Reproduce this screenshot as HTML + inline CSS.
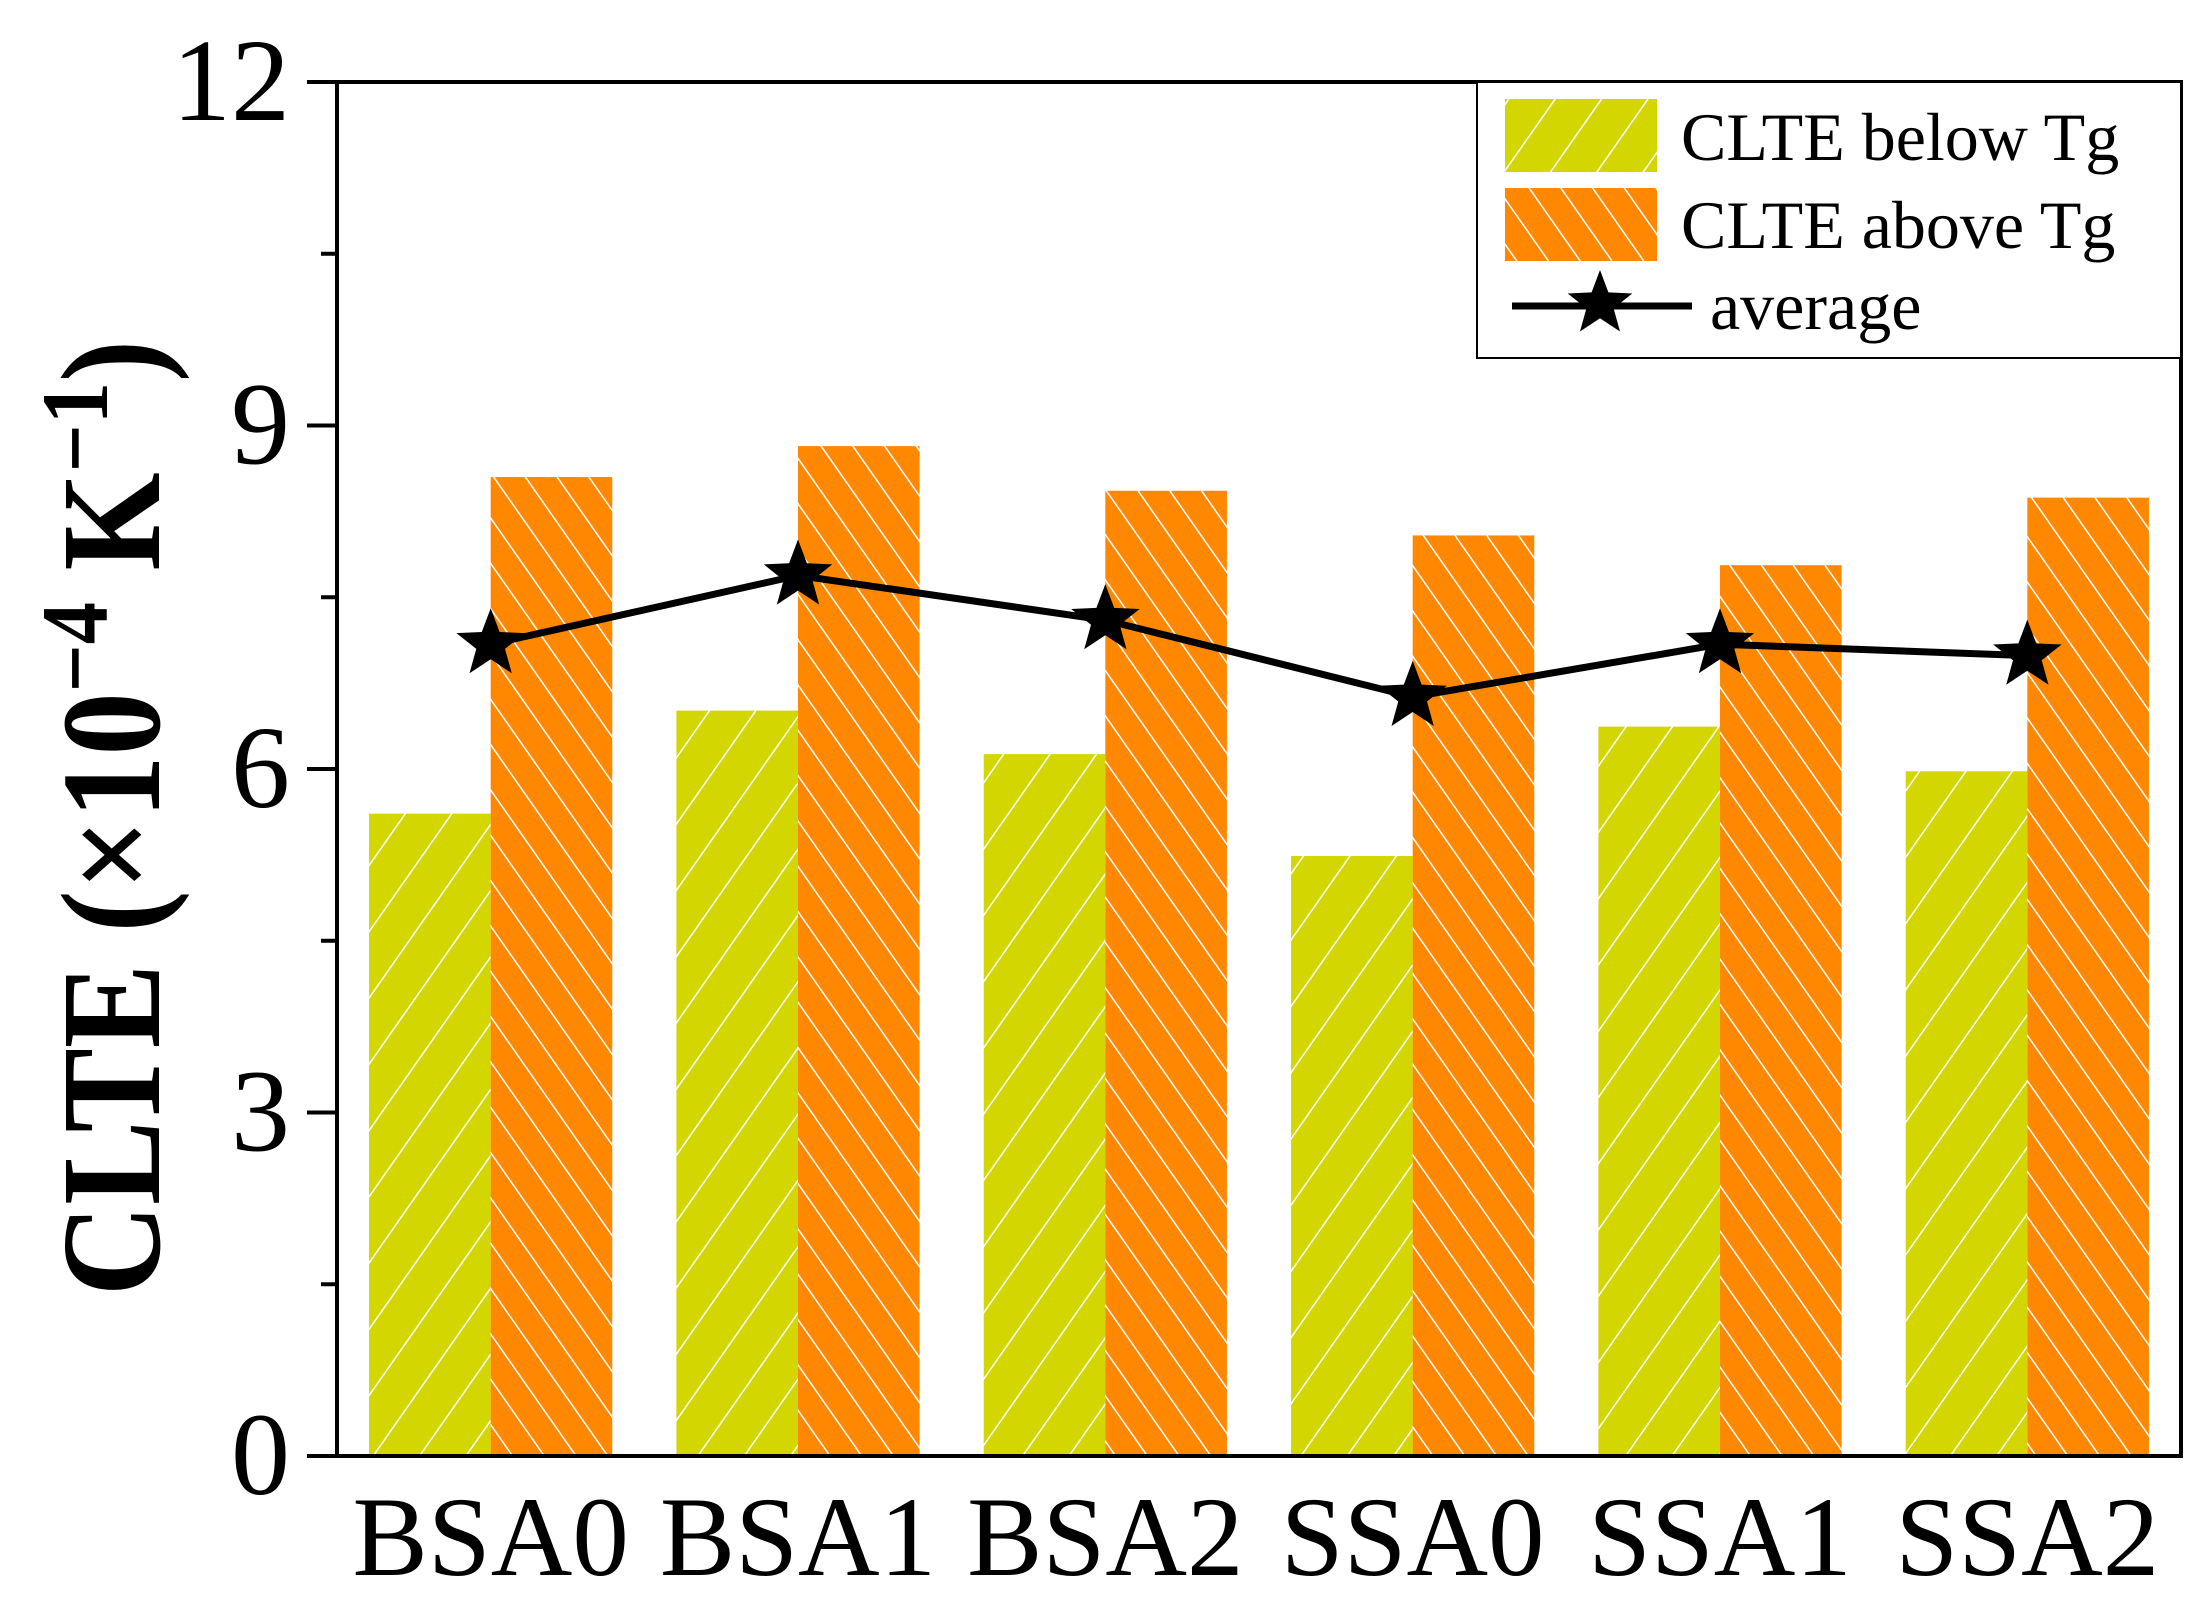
<!DOCTYPE html>
<html><head><meta charset="utf-8"><style>html,body{margin:0;padding:0;background:#fff}svg{display:block}</style></head>
<body>
<svg id="chart" width="2209" height="1606" viewBox="0 0 2209 1606" xmlns="http://www.w3.org/2000/svg" font-family="'Liberation Serif', serif">
<defs>
<pattern id="hatchG" patternUnits="userSpaceOnUse" width="38" height="38" patternTransform="rotate(35)">
<rect width="38" height="38" fill="#d4d600"/><line x1="0" y1="0" x2="0" y2="38" stroke="#fff" stroke-width="3"/></pattern>
<pattern id="hatchO" patternUnits="userSpaceOnUse" width="26" height="26" patternTransform="rotate(-35)">
<rect width="26" height="26" fill="#ff8800"/><line x1="0" y1="0" x2="0" y2="26" stroke="#fff" stroke-width="3"/></pattern>
</defs>
<g id="bars"></g>
<g id="avg"></g>
<g id="axes"></g>
<text transform="translate(159,818) rotate(-90)" text-anchor="middle" font-size="142" font-weight="bold" textLength="956" lengthAdjust="spacingAndGlyphs">CLTE (×10<tspan baseline-shift="55%" font-size="95">−4</tspan> K<tspan baseline-shift="55%" font-size="95">−1</tspan>)</text>
<g>
<rect x="1477" y="82" width="704" height="276" fill="#fff" stroke="#000" stroke-width="2"/>
<rect x="1505" y="99" width="152" height="73" fill="url(#hatchG)"/>
<rect x="1505" y="188" width="152" height="73" fill="url(#hatchO)"/>
<line x1="1512" y1="306" x2="1692" y2="306" stroke="#000" stroke-width="7"/>
<path id="legStar" fill="#000"/>
<text x="1681" y="160" font-size="68">CLTE below Tg</text>
<text x="1681" y="248" font-size="68">CLTE above Tg</text>
<text x="1710" y="329" font-size="68">average</text>
</g>
</svg>
<script>
const categories = ["BSA0","BSA1","BSA2","SSA0","SSA1","SSA2"];
const belowTg = [5.61,6.51,6.13,5.24,6.37,5.98];
const aboveTg = [8.55,8.82,8.43,8.04,7.78,8.37];
const average = [7.09,7.69,7.30,6.63,7.09,6.99];
const yTicks = [0,3,6,9,12];
const yMinor = [1.5,4.5,7.5,10.5];

const NS="http://www.w3.org/2000/svg";
const L=337,R=2181,T=82,B=1456,yMax=12;
const y=v=>B-(v/yMax)*(B-T);
const band=(R-L)/categories.length;
const xc=i=>L+band*(i+0.5);
const bw=121.6;
function mk(tag,attrs,parent){const e=document.createElementNS(NS,tag);for(const k in attrs)e.setAttribute(k,attrs[k]);parent.appendChild(e);return e;}
function starPath(cx,cy,r){let d="";for(let k=0;k<10;k++){const rr=k%2?r*0.42:r;const a=-Math.PI/2+k*Math.PI/5;d+=(k?"L":"M")+(cx+rr*Math.cos(a)).toFixed(1)+","+(cy+rr*Math.sin(a)).toFixed(1);}return d+"Z";}
const gb=document.getElementById('bars');
categories.forEach((c,i)=>{
  const g=mk('rect',{x:xc(i)-bw,y:y(belowTg[i]),width:bw,height:B-y(belowTg[i]),fill:'url(#hatchG)'},gb);
  
  
  const o=mk('rect',{x:xc(i),y:y(aboveTg[i]),width:bw,height:B-y(aboveTg[i]),fill:'url(#hatchO)'},gb);
  
  
});
const ga=document.getElementById('avg');
const line=mk('polyline',{points:average.map((v,i)=>xc(i)+","+y(v)).join(" "),fill:'none',stroke:'#000','stroke-width':7},ga);


average.forEach((v,i)=>{
  const s=mk('path',{d:starPath(xc(i),y(v),36),fill:'#000'},ga);
  
  
});
document.getElementById('legStar').setAttribute('d',starPath(1600,304,34));
const gx=document.getElementById('axes');
const fr=mk('rect',{x:L,y:T,width:R-L,height:B-T,fill:'none',stroke:'#000','stroke-width':4},gx);


yTicks.forEach(v=>{
  const t=mk('line',{x1:L-30,x2:L,y1:y(v),y2:y(v),stroke:'#000','stroke-width':4},gx);
  
  
  const lb=mk('text',{x:290,y:y(v)+38,'text-anchor':'end','font-size':118},gx);
  lb.textContent=v;
  
  
});
yMinor.forEach(v=>{
  const t=mk('line',{x1:L-16,x2:L,y1:y(v),y2:y(v),stroke:'#000','stroke-width':4},gx);
  
  
});
categories.forEach((c,i)=>{
  const lb=mk('text',{x:xc(i),y:1575,'text-anchor':'middle','font-size':113},gx);
  lb.textContent=c;
  
  
});
</script>
</body></html>
